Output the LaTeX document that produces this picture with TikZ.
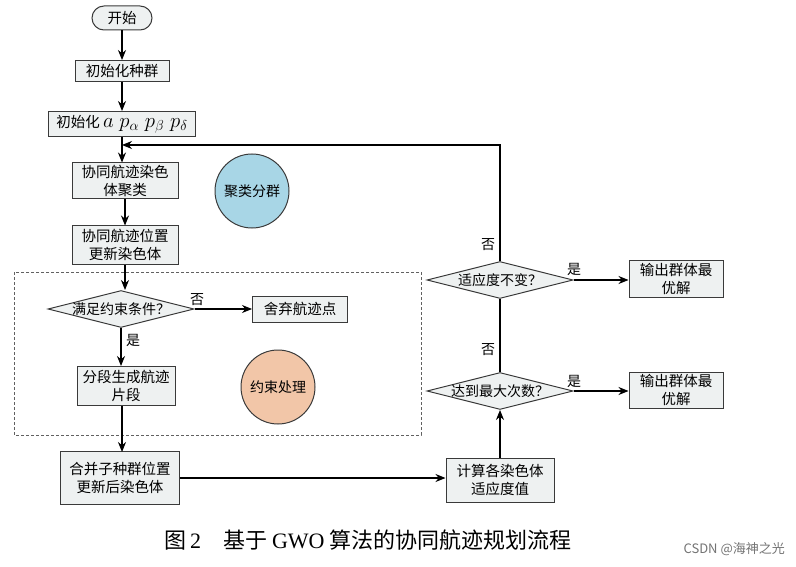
\documentclass[tikz,border=0pt]{standalone}
\usepackage{fontspec}
\setmainfont{Noto Sans CJK SC}
\newfontfamily\serifl{Liberation Serif}
\usetikzlibrary{arrows.meta,shapes.geometric,shapes.misc}
\definecolor{boxfill}{HTML}{EEF1F1}
\definecolor{boxline}{HTML}{3A3A3A}
\definecolor{bluefill}{HTML}{A8D6E6}
\definecolor{orangefill}{HTML}{F2C6A8}
\tikzset{
  stepbox/.style={draw=boxline, fill=boxfill, line width=1pt, align=center, inner sep=0pt, font=\fontsize{14.5}{18}\selectfont},
  decision/.style={draw=boxline, fill=boxfill, line width=1pt, shape=diamond, inner sep=0pt, minimum width=146pt, minimum height=37pt, font=\fontsize{14}{16}\selectfont},
  blob/.style={draw=boxline, line width=1pt, circle, minimum size=74pt, inner sep=0pt, font=\fontsize{14}{16}\selectfont},
  flow/.style={line width=1.1pt, -{Stealth[length=10pt,width=8pt]}},
  plain/.style={line width=1.1pt},
  lbl/.style={font=\fontsize{14}{16}\selectfont, inner sep=1pt}
}
\begin{document}
\begin{tikzpicture}[x=1pt,y=-1pt]
\useasboundingbox (0,0) rectangle (796,567);
% dashed region
\draw[draw=boxline!80, line width=0.8pt, dash pattern=on 3pt off 2pt] (14,272) rectangle (421,435);
% nodes
\node[stepbox, shape=rounded rectangle, minimum width=60pt, minimum height=24pt] (start) at (122,18) {开始};
\node[stepbox, minimum width=94pt, minimum height=21pt] (init1) at (122,71) {初始化种群};
\node[stepbox, minimum width=147pt, minimum height=25pt] (init2) at (122,124) {初始化 {\fontsize{21}{22}\selectfont$a\;p_\alpha\;p_\beta\;p_\delta$}};
\coordinate (fb) at (122,145);
\node[stepbox, minimum width=106pt, minimum height=36pt] (clus) at (125,181) {协同航迹染色\\体聚类};
\node[blob, fill=bluefill] (c1) at (252,191) {聚类分群};
\node[stepbox, minimum width=106pt, minimum height=38pt] (upd) at (125,245) {协同航迹位置\\更新染色体};
\node[decision] (cond) at (121,309) {\makebox[0pt]{满足约束条件？}};
\node[stepbox, minimum width=95pt, minimum height=26pt] (disc) at (300,309) {舍弃航迹点};
\node[stepbox, minimum width=98pt, minimum height=39pt] (seg) at (126,386) {分段生成航迹\\片段};
\node[blob, fill=orangefill] (c2) at (278,387) {约束处理};
\node[stepbox, minimum width=119pt, minimum height=53pt] (merge) at (120,478) {合并子种群位置\\更新后染色体};
\node[stepbox, minimum width=108pt, minimum height=44pt] (calc) at (500,480) {计算各染色体\\适应度值};
\node[decision] (dmax) at (500,391) {\makebox[0pt]{达到最大次数？}};
\node[decision] (dfit) at (500,280) {\makebox[0pt]{适应度不变？}};
\node[stepbox, minimum width=94pt, minimum height=37pt] (out1) at (676,279) {输出群体最\\优解};
\node[stepbox, minimum width=94pt, minimum height=36pt] (out2) at (676,390) {输出群体最\\优解};
% connectors
\draw[flow] (start) -- (init1);
\draw[flow] (init1) -- (init2);
\draw[flow] (init2.south) -- (init2.south |- clus.north);
\draw[flow] (dfit.north) |- (fb);
\draw[flow] (clus) -- (upd);
\draw[flow] (upd.south) -- (upd.south |- cond.north);
\draw[flow] (cond.east) -- (disc.west);
\draw[flow] (cond.south) -- (cond.south |- seg.north);
\draw[flow] (seg.south -| 122,0) -- (122,452);
\draw[flow] (merge.east) -- (merge.east -| calc.west);
\draw[flow] (calc.north) -- (dmax.south);
\draw[plain] (dmax.north) -- (dfit.south);
\draw[flow] (dfit.east) -- (out1.west |- dfit.east);
\draw[flow] (dmax.east) -- (out2.west |- dmax.east);
% labels
\node[lbl] (l1) at (197,300) {否};
\node[lbl] (l2) at (133,340) {是};
\node[lbl] (l3) at (488,245) {否};
\node[lbl] (l4) at (488,350) {否};
\node[lbl] (l5) at (574,269) {是};
\node[lbl] (l6) at (574,381) {是};
% caption
\node[font=\fontsize{22}{26}\selectfont, inner sep=0pt] (cap) at (368,540) {图\,{\serifl 2}\hspace{1em}基于 {\serifl GWO} 算法的协同航迹规划流程};
\node[font=\fontsize{13}{15}\selectfont, text=black!55, inner sep=0pt, anchor=east] (wm) at (785,549) {CSDN @海神之光};
\end{tikzpicture}
\end{document}
